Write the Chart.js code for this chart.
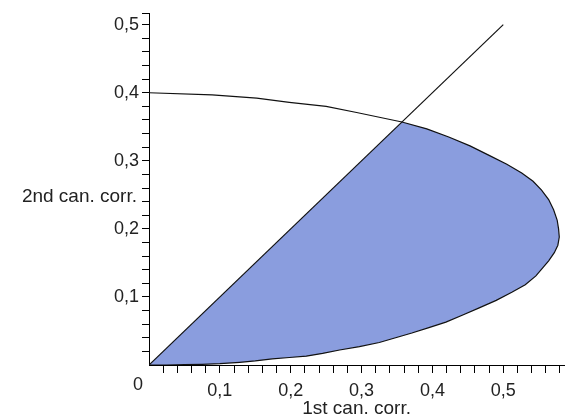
<!DOCTYPE html>
<html>
<head>
<meta charset="utf-8">
<script src="https://cdn.jsdelivr.net/npm/chart.js@4/dist/chart.umd.min.js"></script>
<style>
  html, body { margin: 0; padding: 0; background: #fff; }
  #wrap { width: 567px; height: 420px; }
</style>
</head>
<body>
<div id="wrap"><canvas id="chart"></canvas></div>
<script>
// boundary curve, from (0, 0.4) round the right side back to the origin
const curveX = [0, 0.089, 0.152, 0.198, 0.250, 0.293, 0.357, 0.392, 0.423, 0.453, 0.480, 0.505, 0.526, 0.542, 0.554, 0.564, 0.571, 0.576, 0.578, 0.579, 0.577, 0.572, 0.564, 0.555, 0.546, 0.531, 0.512, 0.490, 0.466, 0.442, 0.419, 0.395, 0.371, 0.348, 0.325, 0.297, 0.269, 0.245, 0.222, 0.198, 0.174, 0.150, 0.128, 0.100, 0.075, 0.050, 0.025, 0];
const curveY = [0.400, 0.397, 0.392, 0.386, 0.380, 0.371, 0.357, 0.347, 0.335, 0.322, 0.308, 0.295, 0.282, 0.270, 0.257, 0.243, 0.228, 0.213, 0.200, 0.188, 0.176, 0.165, 0.153, 0.142, 0.131, 0.118, 0.107, 0.095, 0.084, 0.073, 0.063, 0.055, 0.047, 0.040, 0.033, 0.027, 0.022, 0.017, 0.013, 0.011, 0.009, 0.006, 0.004, 0.002, 0.001, 0.0005, 0, 0];
const crossIndex = 6; // where the diagonal meets the curve

// the diagonal
const diagX = [0, 0.5];
const diagY = [0, 0.5];

// ticks
const xTickValues = [0.02, 0.04, 0.06, 0.08, 0.1, 0.12, 0.14, 0.16, 0.18, 0.2, 0.22, 0.24, 0.26, 0.28, 0.3, 0.32, 0.34, 0.36, 0.38, 0.4, 0.42, 0.44, 0.46, 0.48, 0.5, 0.52, 0.54, 0.56, 0.58];
const yTickValues = [0.02, 0.04, 0.06, 0.08, 0.1, 0.12, 0.14, 0.16, 0.18, 0.2, 0.22, 0.24, 0.26, 0.28, 0.3, 0.32, 0.34, 0.36, 0.38, 0.4, 0.42, 0.44, 0.46, 0.48, 0.5, 0.516];
const majorValues = [0.1, 0.2, 0.3, 0.4, 0.5];
const majorLabels = ["0,1", "0,2", "0,3", "0,4", "0,5"];

const xTitle = "1st can. corr.";
const yTitle = "2nd can. corr.";

const toPoints = (xs, ys) => xs.map((x, i) => ({ x: x, y: ys[i] }));
const regionPoints = [{ x: 0, y: 0 }].concat(toPoints(curveX.slice(crossIndex), curveY.slice(crossIndex)));

const labelFor = (v) => {
    const i = majorValues.findIndex(m => Math.abs(m - v) < 1e-6);
    return i >= 0 ? majorLabels[i] : "";
};

const FONT = '"Liberation Sans", Arial, sans-serif';
const TEXT = "#222";

// y title sits horizontally left of the axis, and a single "0" at the corner
const extraText = {
    id: "extraText",
    afterDraw(chart) {
        const { ctx, chartArea } = chart;
        ctx.save();
        ctx.fillStyle = TEXT;
        ctx.font = "19px " + FONT;
        ctx.textBaseline = "middle";
        ctx.textAlign = "right";
        ctx.fillText(yTitle, chartArea.left - 12, (chartArea.top + chartArea.bottom) / 2 + 7);
        ctx.font = "18px " + FONT;
        ctx.textAlign = "center";
        ctx.fillText("0", chartArea.left - 11, chartArea.bottom + 20);
        ctx.restore();
    }
};

new Chart(document.getElementById("chart"), {
    type: "line",
    data: {
        datasets: [
            {
                data: toPoints(diagX, diagY),
                borderColor: "#111",
                borderWidth: 1.2,
                pointRadius: 0,
                fill: false
            },
            {
                data: toPoints(curveX, curveY),
                borderColor: "#111",
                borderWidth: 1.2,
                pointRadius: 0,
                tension: 0,
                fill: false
            },
            {
                data: regionPoints,
                borderWidth: 0,
                borderColor: "rgba(0,0,0,0)",
                backgroundColor: "rgb(138,157,222)",
                pointRadius: 0,
                tension: 0,
                fill: "shape"
            }
        ]
    },
    options: {
        responsive: true,
        maintainAspectRatio: false,
        animation: false,
        layout: { padding: { top: 12, right: 1, left: 0, bottom: 0 } },
        plugins: {
            legend: { display: false },
            tooltip: { enabled: false }
        },
        scales: {
            x: {
                type: "linear",
                min: 0,
                max: 0.586,
                afterBuildTicks: (s) => { s.ticks = xTickValues.map(v => ({ value: v })); },
                afterFit: (s) => { s.height = 55; },
                border: { display: true, color: "#000", width: 1 },
                grid: { display: true, drawOnChartArea: false, drawTicks: true, tickLength: 8, color: "#000" },
                ticks: {
                    autoSkip: false,
                    maxRotation: 0,
                    padding: 7,
                    color: TEXT,
                    font: { family: FONT, size: 18 },
                    callback: (v) => labelFor(v)
                },
                title: {
                    display: true,
                    text: xTitle,
                    color: TEXT,
                    font: { family: FONT, size: 19 },
                    padding: 0
                }
            },
            y: {
                type: "linear",
                min: 0,
                max: 0.516,
                afterBuildTicks: (s) => { s.ticks = yTickValues.map(v => ({ value: v })); },
                afterFit: (s) => { s.width = 149; },
                border: { display: true, color: "#000", width: 1 },
                grid: { display: true, drawOnChartArea: false, drawTicks: true, tickLength: 7, color: "#000" },
                ticks: {
                    autoSkip: false,
                    padding: 3,
                    color: TEXT,
                    font: { family: FONT, size: 18 },
                    callback: (v) => labelFor(v)
                }
            }
        }
    },
    plugins: [extraText]
});
</script>
</body>
</html>
